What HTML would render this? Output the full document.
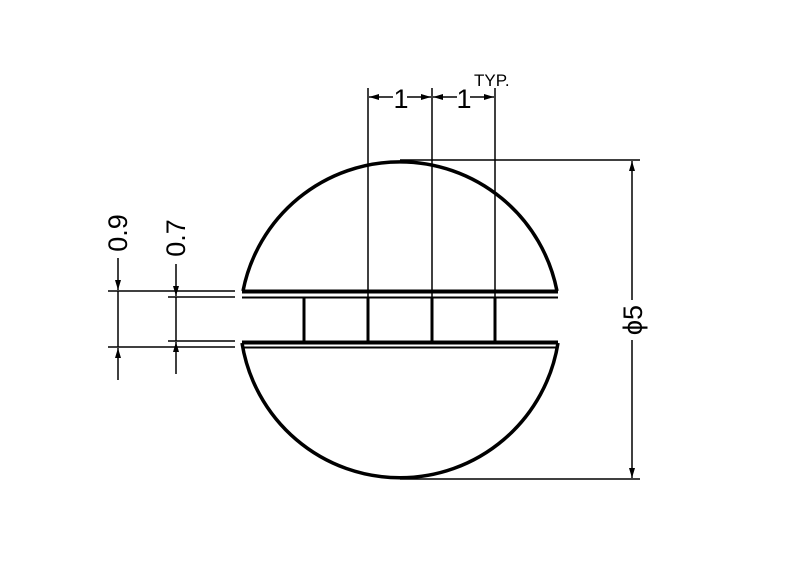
<!DOCTYPE html>
<html><head><style>body{margin:0;background:#fff}svg{display:block}</style></head><body>
<svg width="800" height="576" viewBox="0 0 800 576" xmlns="http://www.w3.org/2000/svg" font-family="Liberation Sans, sans-serif">
<defs><marker id="a" viewBox="0 0 10 6" refX="10" refY="3" markerWidth="10" markerHeight="6" markerUnits="userSpaceOnUse" orient="auto"><path d="M0,0L10,3L0,6z" fill="#000"/></marker></defs>
<g stroke="#000" fill="none">
<path d="M243,291 A160,160 0 0 1 557,291" stroke-width="3.5"/>
<path d="M242,343 A160,160 0 0 0 558,343" stroke-width="3.5"/>
<line x1="242" y1="291.5" x2="558" y2="291.5" stroke-width="4"/>
<line x1="242" y1="297.5" x2="558" y2="297.5" stroke-width="2"/>
<line x1="242" y1="342.5" x2="558" y2="342.5" stroke-width="4"/>
<line x1="242" y1="347.5" x2="558" y2="347.5" stroke-width="2"/>
<g stroke-width="3"><line x1="304" y1="298" x2="304" y2="341"/><line x1="368" y1="298" x2="368" y2="341"/><line x1="432" y1="298" x2="432" y2="341"/><line x1="495" y1="298" x2="495" y2="341"/></g>
<g stroke-width="1.5">
<line x1="368" y1="88" x2="368" y2="298"/><line x1="432" y1="88" x2="432" y2="298"/><line x1="495" y1="88" x2="495" y2="298"/>
<line x1="393" y1="97" x2="369" y2="97" marker-end="url(#a)"/><line x1="407" y1="97" x2="431" y2="97" marker-end="url(#a)"/>
<line x1="457" y1="97" x2="433" y2="97" marker-end="url(#a)"/><line x1="470" y1="97" x2="494" y2="97" marker-end="url(#a)"/>
<line x1="400" y1="160" x2="640" y2="160"/><line x1="400" y1="479" x2="640" y2="479"/>
<line x1="632" y1="300" x2="632" y2="161" marker-end="url(#a)"/><line x1="632" y1="340" x2="632" y2="478" marker-end="url(#a)"/>
<line x1="108" y1="291" x2="235" y2="291"/><line x1="108" y1="347" x2="235" y2="347"/>
<line x1="168" y1="297" x2="235" y2="297"/><line x1="168" y1="341" x2="235" y2="341"/>
<line x1="118" y1="258" x2="118" y2="290" marker-end="url(#a)"/><line x1="118" y1="380" x2="118" y2="348" marker-end="url(#a)"/>
<line x1="118" y1="291" x2="118" y2="347"/>
<line x1="176" y1="264" x2="176" y2="296" marker-end="url(#a)"/><line x1="176" y1="374" x2="176" y2="342" marker-end="url(#a)"/>
<line x1="176" y1="297" x2="176" y2="341"/>
</g></g>
<g fill="#000" font-size="27">
<text x="401" y="108" text-anchor="middle">1</text>
<text x="464" y="108" text-anchor="middle">1</text>
<text x="474" y="86" font-size="17">TYP.</text>
<text transform="translate(127,233) rotate(-90)" text-anchor="middle">0.9</text>
<text transform="translate(185,238) rotate(-90)" text-anchor="middle">0.7</text>
<text transform="translate(642,320) rotate(-90)" text-anchor="middle">ϕ5</text>
</g>
</svg>
</body></html>
